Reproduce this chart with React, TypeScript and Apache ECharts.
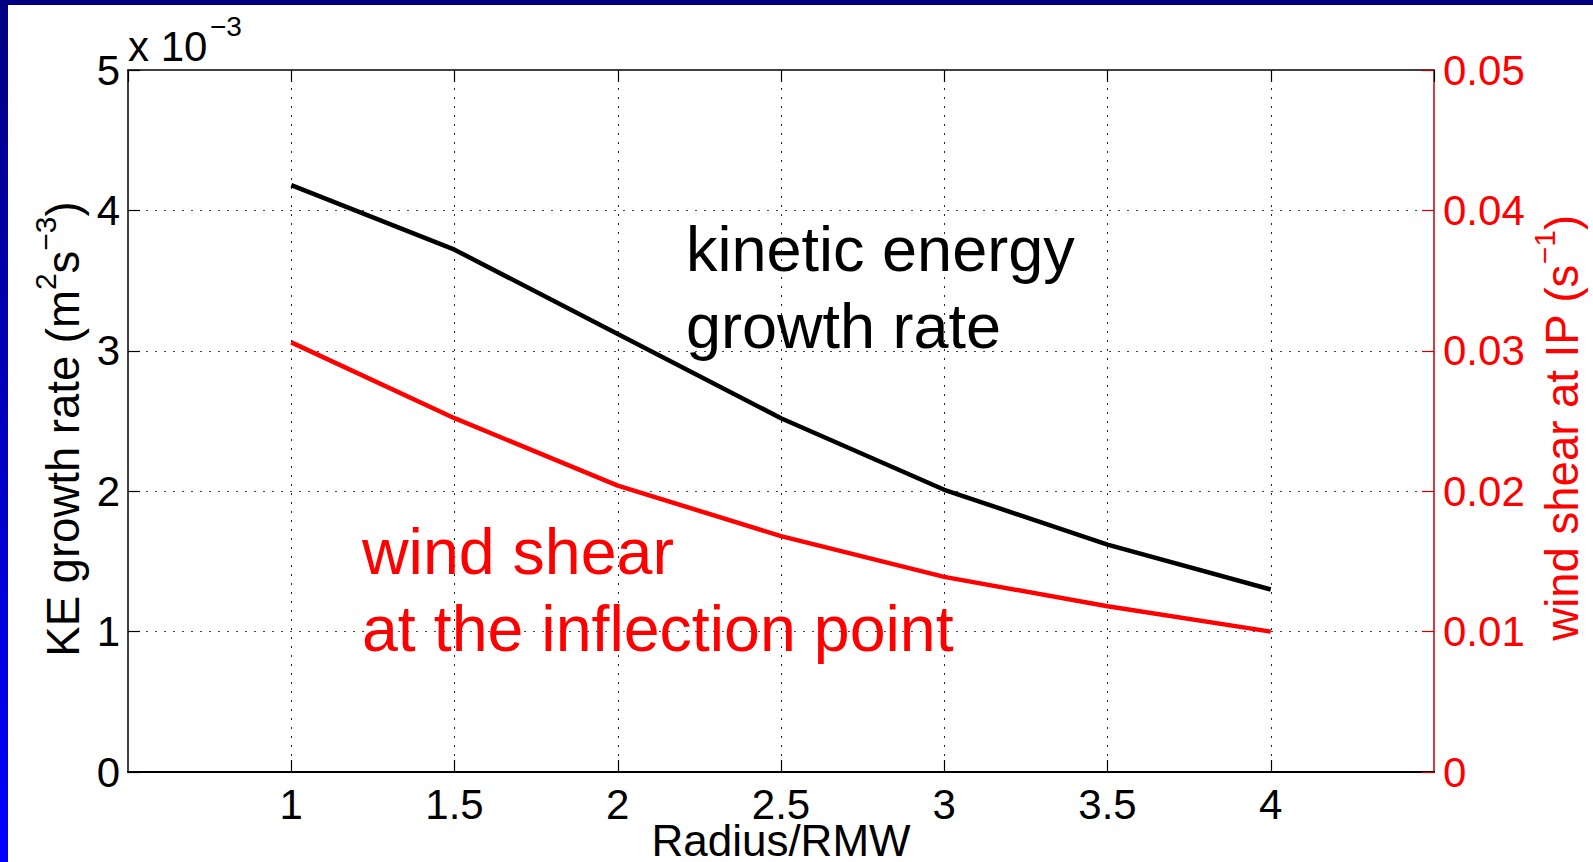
import React, { useEffect, useRef } from 'react';
import * as echarts from 'echarts';

// Radius / RMW
const radius = [1, 1.5, 2, 2.5, 3, 3.5, 4];
// KE growth rate (m^2 s^-3)
const keGrowthRate = [4.18e-3, 3.72e-3, 3.12e-3, 2.52e-3, 2.01e-3, 1.62e-3, 1.30e-3];
// wind shear at inflection point (s^-1)
const windShear = [0.0306, 0.0252, 0.0204, 0.0168, 0.0139, 0.0118, 0.0100];

const xMin = 0.5;
const xMax = 4.5;
const xStep = 0.5;
const leftMax = 0.005;
const leftStep = 0.001;
const rightMax = 0.05;
const rightStep = 0.01;

const FONT = '"Liberation Sans", Arial, Helvetica, sans-serif';

export default function App() {
  const ref = useRef<HTMLDivElement>(null);

  useEffect(() => {
    if (!ref.current) return;
    const chart = echarts.init(ref.current, undefined, { renderer: 'svg' });

    const keData = radius.map((r, i) => [r, keGrowthRate[i]]);
    const wsData = radius.map((r, i) => [r, windShear[i]]);

    const supRich = (color: string) => ({
      b: {
        fontSize: 45.5, lineHeight: 56, verticalAlign: 'bottom',
        fontFamily: FONT, fill: color, color,
      },
      s: {
        fontSize: 30, lineHeight: 2, verticalAlign: 'top',
        fontFamily: FONT, fill: color, color,
      },
    });

    const option: any = {
      animation: false,
      backgroundColor: '#ffffff',
      grid: { left: 128, top: 70, right: 159, bottom: 90, containLabel: false },
      xAxis: [
        {
          type: 'value', min: xMin, max: xMax, interval: xStep, position: 'bottom',
          axisLine: { show: true, onZero: false, lineStyle: { color: '#000', width: 2 } },
          axisTick: { show: true, inside: true, length: 12, lineStyle: { color: '#000', width: 1.2 } },
          axisLabel: {
            show: true, margin: 14, color: '#000', fontSize: 42, lineHeight: 36, fontFamily: FONT,
            showMinLabel: false, showMaxLabel: false,
          },
          splitLine: {
            show: true, showMinLine: false, showMaxLine: false,
            lineStyle: { color: '#222', width: 1, type: [2, 7] },
          },
        },
        {
          type: 'value', min: xMin, max: xMax, interval: xStep, position: 'top',
          axisLine: { show: true, onZero: false, lineStyle: { color: '#000', width: 1.5 } },
          axisTick: { show: true, inside: true, length: 12, lineStyle: { color: '#000', width: 1.2 } },
          axisLabel: { show: false },
          splitLine: { show: false },
        },
      ],
      yAxis: [
        {
          type: 'value', min: 0, max: leftMax, interval: leftStep, position: 'left',
          axisLine: { show: true, onZero: false, lineStyle: { color: '#000', width: 1.5 } },
          axisTick: { show: true, inside: true, length: 12, lineStyle: { color: '#000', width: 1.2 } },
          axisLabel: {
            show: true, margin: 8, color: '#000', fontSize: 42, fontFamily: FONT,
            formatter: (v: number) => String(Math.round(v * 1000)),
          },
          splitLine: {
            show: true, showMinLine: false, showMaxLine: false,
            lineStyle: { color: '#444', width: 1, type: [2, 7] },
          },
        },
        {
          type: 'value', min: 0, max: rightMax, interval: rightStep, position: 'right',
          axisLine: { show: true, onZero: false, lineStyle: { color: '#c00000', width: 1.5 } },
          axisTick: { show: true, inside: true, length: 12, lineStyle: { color: '#d00000', width: 1.2 } },
          axisLabel: {
            show: true, margin: 9, color: '#ff0000', fontSize: 42, fontFamily: FONT,
            formatter: (v: number) => (Math.abs(v) < 1e-9 ? '0' : v.toFixed(2)),
          },
          splitLine: { show: false },
        },
      ],
      series: [
        {
          name: 'kinetic energy growth rate', type: 'line', xAxisIndex: 0, yAxisIndex: 0,
          data: keData, showSymbol: false, symbol: 'none',
          lineStyle: { color: '#000000', width: 4.5 }, z: 5,
        },
        {
          name: 'wind shear at the inflection point', type: 'line', xAxisIndex: 0, yAxisIndex: 1,
          data: wsData, showSymbol: false, symbol: 'none',
          lineStyle: { color: '#ff0000', width: 4.5 }, z: 5,
        },
      ],
      graphic: [
        {
          type: 'rect', x: 0, y: 0, z: 100,
          shape: { x: 0, y: 0, width: 1593, height: 5 },
          style: { fill: '#000080' },
        },
        {
          type: 'rect', x: 0, y: 0, z: 100,
          shape: { x: 0, y: 0, width: 8, height: 862 },
          style: {
            fill: new echarts.graphic.LinearGradient(0, 0, 0, 1, [
              { offset: 0, color: '#000080' },
              { offset: 1, color: '#0000ff' },
            ]),
          },
        },
        {
          type: 'text', x: 128, y: 46.5, z: 50,
          style: {
            text: 'x 10', fontSize: 42, fontFamily: FONT, fill: '#000',
            align: 'left', verticalAlign: 'middle', textAlign: 'left', textVerticalAlign: 'middle',
          },
        },
        {
          type: 'text', x: 210, y: 26, z: 50,
          style: {
            text: '−3', fontSize: 28, fontFamily: FONT, fill: '#000',
            align: 'left', verticalAlign: 'middle', textAlign: 'left', textVerticalAlign: 'middle',
          },
        },
        {
          type: 'text', x: 686, y: 249, z: 50,
          style: {
            text: 'kinetic energy', fontSize: 63, fontFamily: FONT, fill: '#000',
            align: 'left', verticalAlign: 'middle', textAlign: 'left', textVerticalAlign: 'middle',
          },
        },
        {
          type: 'text', x: 686, y: 326, z: 50,
          style: {
            text: 'growth rate', fontSize: 63, fontFamily: FONT, fill: '#000',
            align: 'left', verticalAlign: 'middle', textAlign: 'left', textVerticalAlign: 'middle',
          },
        },
        {
          type: 'text', x: 362, y: 552, z: 50,
          style: {
            text: 'wind shear', fontSize: 64.5, fontFamily: FONT, fill: '#ff0000',
            align: 'left', verticalAlign: 'middle', textAlign: 'left', textVerticalAlign: 'middle',
          },
        },
        {
          type: 'text', x: 362, y: 629, z: 50,
          style: {
            text: 'at the inflection point', fontSize: 64.5, fontFamily: FONT, fill: '#ff0000',
            align: 'left', verticalAlign: 'middle', textAlign: 'left', textVerticalAlign: 'middle',
          },
        },
        {
          type: 'text', x: 781, y: 840, z: 50,
          style: {
            text: 'Radius/RMW', fontSize: 44, lineHeight: 36, fontFamily: FONT, fill: '#000',
            align: 'center', verticalAlign: 'middle', textAlign: 'center', textVerticalAlign: 'middle',
          },
        },
        {
          type: 'text', x: 58, y: 429, rotation: Math.PI / 2, z: 50,
          style: {
            text: '{b|KE growth rate (m}{s|2}{b|s}{s|−3}{b|)}',
            rich: supRich('#000000'),
            align: 'center', verticalAlign: 'middle', textAlign: 'center', textVerticalAlign: 'middle',
          },
        },
        {
          type: 'text', x: 1557, y: 428, rotation: Math.PI / 2, z: 50,
          style: {
            text: '{b|wind shear at IP (s}{s|−1}{b|)}',
            rich: supRich('#ff0000'),
            align: 'center', verticalAlign: 'middle', textAlign: 'center', textVerticalAlign: 'middle',
          },
        },
      ],
    };

    chart.setOption(option);
    return () => chart.dispose();
  }, []);

  return (
    <div
      ref={ref}
      style={{ position: 'fixed', left: 0, top: 0, width: 1593, height: 862, background: '#fff' }}
    />
  );
}
